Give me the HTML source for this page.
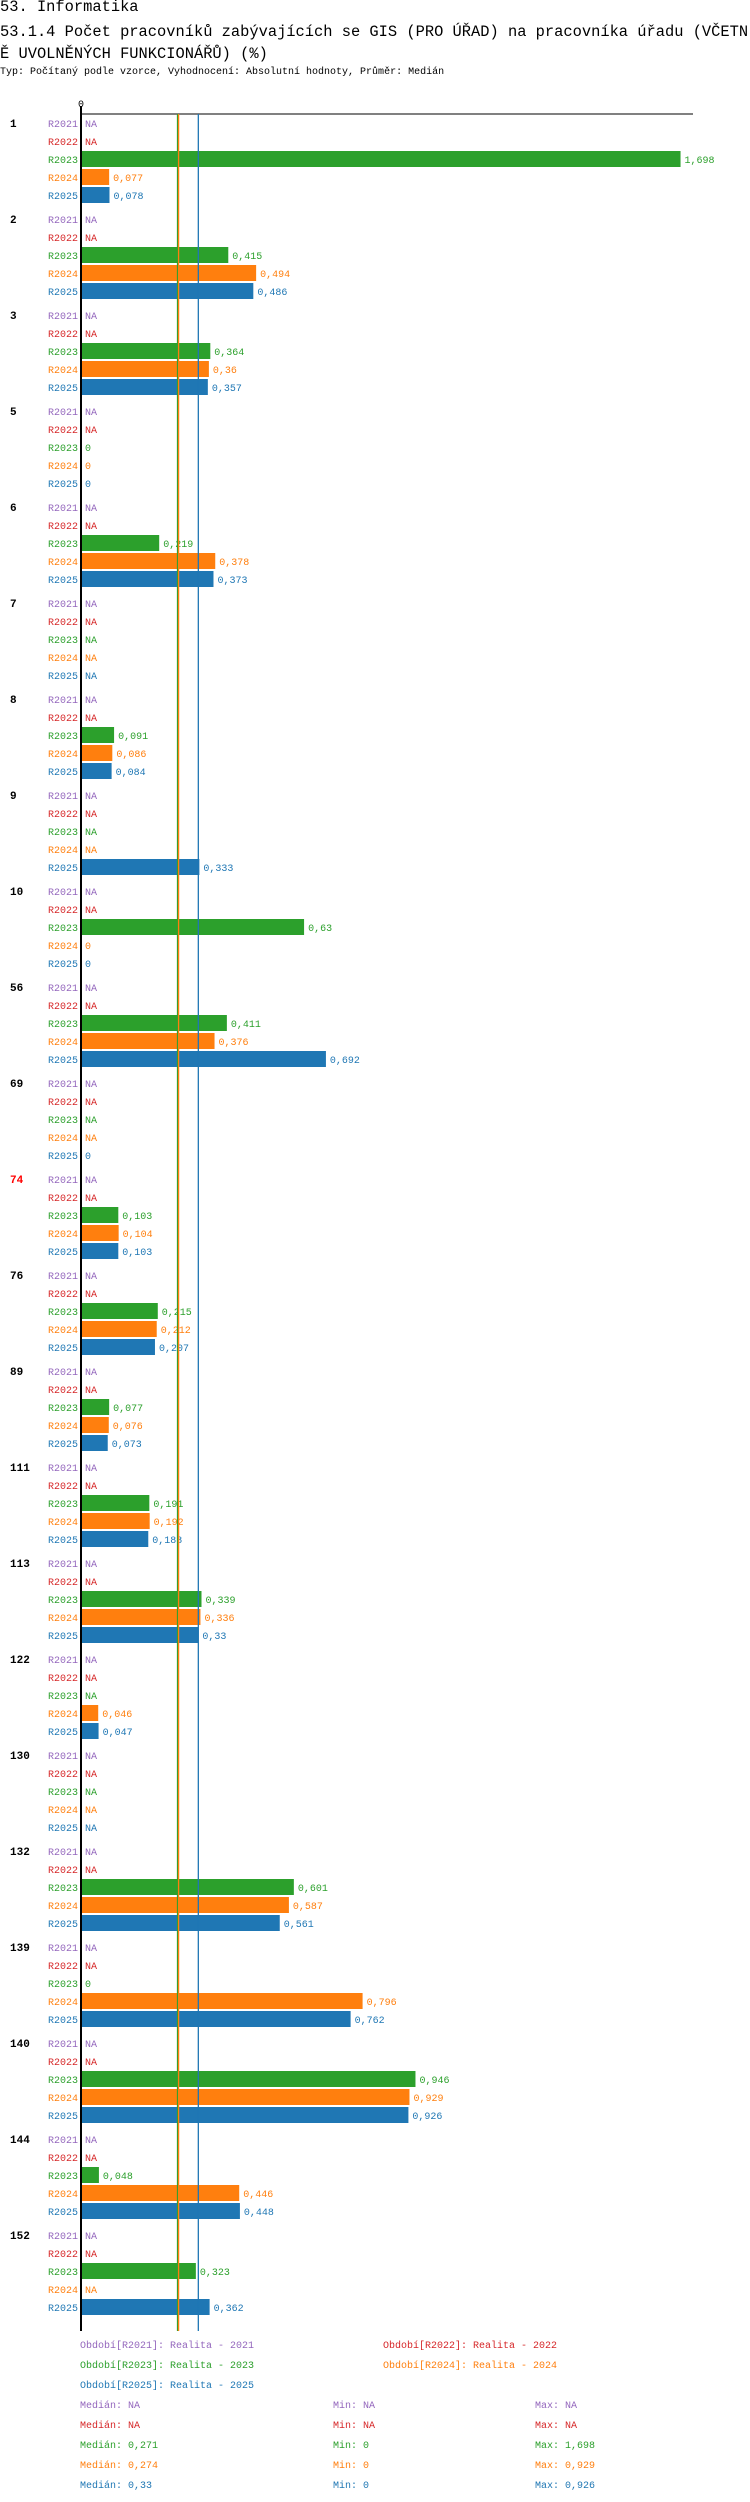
<!DOCTYPE html>
<html><head><meta charset="utf-8"><style>
body{margin:0;background:#fff;width:750px;height:2502px;position:relative;overflow:hidden;font-family:"Liberation Mono","DejaVu Sans Mono",monospace}
.t{position:absolute;white-space:nowrap;line-height:1}
</style></head><body>
<div class="t" style="left:0;top:0;font-size:15.4px">53. Informatika</div>
<div class="t" style="left:0;top:21px;font-size:15.4px;line-height:22px;white-space:normal;word-break:break-all;width:752px">53.1.4 Počet pracovníků zabývajících se GIS (PRO ÚŘAD) na pracovníka úřadu (VČETNĚ UVOLNĚNÝCH FUNKCIONÁŘŮ) (%)</div>
<div class="t" style="left:0;top:68px;font-size:10px">Typ: Počítaný podle vzorce, Vyhodnocení: Absolutní hodnoty, Průměr: Medián</div>
<svg id="chart" width="750" height="2502" style="position:absolute;left:0;top:0" font-family="Liberation Mono, DejaVu Sans Mono, monospace" font-size="10"></svg>
<script>
const groups=["1","2","3","5","6","7","8","9","10","56","69","74","76","89","111","113","122","130","132","139","140","144","152"];
const series=["R2021","R2022","R2023","R2024","R2025"];
const v2021=Array(23).fill(null);
const v2022=Array(23).fill(null);
const v2023=[1.698,0.415,0.364,0,0.219,null,0.091,null,0.63,0.411,null,0.103,0.215,0.077,0.191,0.339,null,null,0.601,0,0.946,0.048,0.323];
const v2024=[0.077,0.494,0.36,0,0.378,null,0.086,null,0,0.376,null,0.104,0.212,0.076,0.192,0.336,0.046,null,0.587,0.796,0.929,0.446,null];
const v2025=[0.078,0.486,0.357,0,0.373,null,0.084,0.333,0,0.692,0,0.103,0.207,0.073,0.188,0.33,0.047,null,0.561,0.762,0.926,0.448,0.362];
const medians=[null,null,0.271,0.274,0.33];
const mins=[null,null,0,0,0];
const maxs=[null,null,1.698,0.929,0.926];
const colors=["#9467bd","#d62728","#2ca02c","#ff7f0e","#1f77b4"];
const redGroups=["74"];
const vals=[v2021,v2022,v2023,v2024,v2025];
const X0=82,SC=352.5;
const x=v=>X0+v*SC;
const yRow=(g,s)=>123+g*96+s*18;
const fmt=v=>v===null?"NA":String(v).replace(".",",");
const svg=document.getElementById('chart');
const NS="http://www.w3.org/2000/svg";
function mk(tag,attrs,txt){const e=document.createElementNS(NS,tag);for(const k in attrs)e.setAttribute(k,attrs[k]);if(txt!==undefined)e.textContent=txt;svg.appendChild(e);return e;}
const bottom=yRow(groups.length-1,4)+16;
let e=mk('line',{x1:X0-1,x2:693,y1:114,y2:114,stroke:'#000','stroke-width':1});


e=mk('text',{x:X0-1,y:107,'text-anchor':'middle',fill:'#000'},'0');


groups.forEach((g,gi)=>{
  e=mk('text',{x:10,y:yRow(gi,0)+4,'font-weight':'bold',fill:redGroups.includes(g)?'#ff0000':'#000','font-size':'11'},g);
  
  
  series.forEach((s,si)=>{
    const y=yRow(gi,si);const v=vals[si][gi];
    e=mk('text',{x:78,y:y+4,'text-anchor':'end',fill:colors[si]},s);
    
    
    let lx=X0+3;
    if(v!==null&&v>0){
      e=mk('rect',{x:X0,y:y-8,width:x(v)-X0,height:16,fill:colors[si]});
      
      
      lx=x(v)+4;
    }
    e=mk('text',{x:lx,y:y+4,fill:colors[si]},fmt(v));
    
    
  });
});
medians.forEach((m,si)=>{if(m===null)return;
  e=mk('line',{x1:x(m),x2:x(m),y1:114,y2:bottom+8,stroke:colors[si],'stroke-width':1.3});
  
  
});
e=mk('line',{x1:X0-1,x2:X0-1,y1:106,y2:bottom+8,stroke:'#000','stroke-width':2});


const leg=[[80,2344],[383,2344],[80,2364],[383,2364],[80,2384]];
series.forEach((s,si)=>{
  e=mk('text',{x:leg[si][0],y:leg[si][1]+4,fill:colors[si]},'Období['+s+']: Realita - '+s.slice(1));
  
  
  const y=2404+si*20+4;
  e=mk('text',{x:80,y:y,fill:colors[si]},'Medián: '+fmt(medians[si]));
  
  
  e=mk('text',{x:333,y:y,fill:colors[si]},'Min: '+fmt(mins[si]));
  
  
  e=mk('text',{x:535,y:y,fill:colors[si]},'Max: '+fmt(maxs[si]));
  
  
});
</script>
</body></html>
